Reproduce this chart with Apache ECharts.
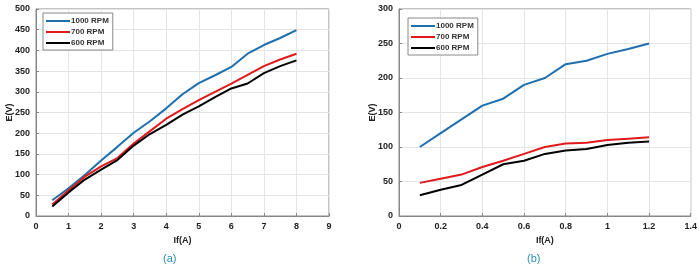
<!DOCTYPE html>
<html><head><meta charset="utf-8">
<script src="https://cdn.jsdelivr.net/npm/echarts@6/dist/echarts.min.js"></script>
<style>html,body{margin:0;padding:0;background:#fff}#c{width:700px;height:272px}</style>
</head><body><div id="c"></div>
<script>
const seriesNames = ['1000 RPM', '700 RPM', '600 RPM'];
const colors = ['#1f6fae', '#e0191b', '#000000'];
// Panel (a)
const xA = [0.5,1,1.5,2,2.5,3,3.5,4,4.5,5,5.5,6,6.5,7,7.5,8];
const a1000 = [38,67,99,134,167,201,229,260,294,321,340,360,392,413,430,449];
const a700  = [28,62,95,120,140,175,205,235,258,280,300,320,341,362,378,392];
const a600  = [23,57,88,112,135,170,198,220,245,265,287,308,320,345,362,376];
// Panel (b)
const xB = [0.1,0.2,0.3,0.4,0.5,0.6,0.7,0.8,0.9,1.0,1.1,1.2];
const b1000 = [100,120,140,160,170,190,200,220,225,235,242,250];
const b700  = [48,54,60,71,80,90,100,105,106,110,112,114];
const b600  = [30,38,45,60,75,80,90,95,97,103,106,108];

const font = 'Liberation Sans';
const lab = {fontFamily: font, fontSize: 9, fontWeight: 'bold', color: '#222'};
function xAxis(idx, max, interval) {
  return {type:'value', gridIndex: idx, min:0, max, interval,
    name:'If(A)', nameLocation:'middle', nameGap: 12,
    nameTextStyle:{fontFamily:font, fontSize:9, fontWeight:'bold', color:'#222'},
    axisLine:{show:true, lineStyle:{color:'#888'}},
    axisTick:{show:true, inside:true, length:3, lineStyle:{color:'#888'}},
    axisLabel:Object.assign({margin:6, formatter: v => String(Math.round(v*10)/10)}, lab),
    splitLine:{show:true, lineStyle:{color:'#e4e4e4', width:1}}};
}
function yAxis(idx, max, interval) {
  return {type:'value', gridIndex: idx, min:0, max, interval,
    name:'E(V)', nameLocation:'middle', nameGap: 22, nameMoveOverlap: false,
    nameTextStyle:{fontFamily:font, fontSize:9, fontWeight:'bold', color:'#222'},
    axisLine:{show:true, lineStyle:{color:'#888'}},
    axisTick:{show:true, inside:true, length:3, lineStyle:{color:'#888'}},
    axisLabel:Object.assign({margin:6}, lab),
    splitLine:{show:true, lineStyle:{color:'#e4e4e4', width:1}}};
}
function mk(name, data, xs, idx, c) {
  return {name, type:'line', xAxisIndex: idx, yAxisIndex: idx, showSymbol:false,
    data: xs.map((x,i)=>[x,data[i]]), lineStyle:{width:2, color:c}, itemStyle:{color:c}};
}
const chart = echarts.init(document.getElementById('c'));
chart.setOption({
  animation:false,
  grid:[
    {left:36, right:371, top:9, bottom:56, show:true, borderColor:'#888', borderWidth:1, backgroundColor:'#fff'},
    {left:399, right:8, top:9, bottom:56, show:true, borderColor:'#888', borderWidth:1, backgroundColor:'#fff'}
  ],
  xAxis:[xAxis(0, 9, 1), xAxis(1, 1.4, 0.2)],
  yAxis:[yAxis(0, 500, 50), yAxis(1, 300, 50)],
  legend:[
    {left:43, top:13, orient:'vertical', itemWidth:24, itemHeight:2, itemGap:3, padding:[4,4,3,3],
     borderColor:'#888', borderWidth:1, backgroundColor:'#fff', icon:'rect',
     textStyle:{fontFamily:font, fontSize:8, fontWeight:'bold', color:'#333', padding:[0,0,0,-4]},
     data: seriesNames},
    {left:408, top:18, orient:'vertical', itemWidth:24, itemHeight:2, itemGap:3, padding:[4,4,3,3],
     borderColor:'#888', borderWidth:1, backgroundColor:'#fff', icon:'rect',
     textStyle:{fontFamily:font, fontSize:8, fontWeight:'bold', color:'#333', padding:[0,0,0,-4]},
     data: seriesNames}
  ],
  title:[
    {text:'(a)', left:158, top:248, textStyle:{fontFamily:font, fontSize:11, fontWeight:'normal', color:'#2a8fb5'}},
    {text:'(b)', left:522, top:248, textStyle:{fontFamily:font, fontSize:11, fontWeight:'normal', color:'#2a8fb5'}}
  ],
  series:[
    mk(seriesNames[0], a1000, xA, 0, colors[0]),
    mk(seriesNames[1], a700, xA, 0, colors[1]),
    mk(seriesNames[2], a600, xA, 0, colors[2]),
    mk(seriesNames[0], b1000, xB, 1, colors[0]),
    mk(seriesNames[1], b700, xB, 1, colors[1]),
    mk(seriesNames[2], b600, xB, 1, colors[2])
  ]
});
</script></body></html>
